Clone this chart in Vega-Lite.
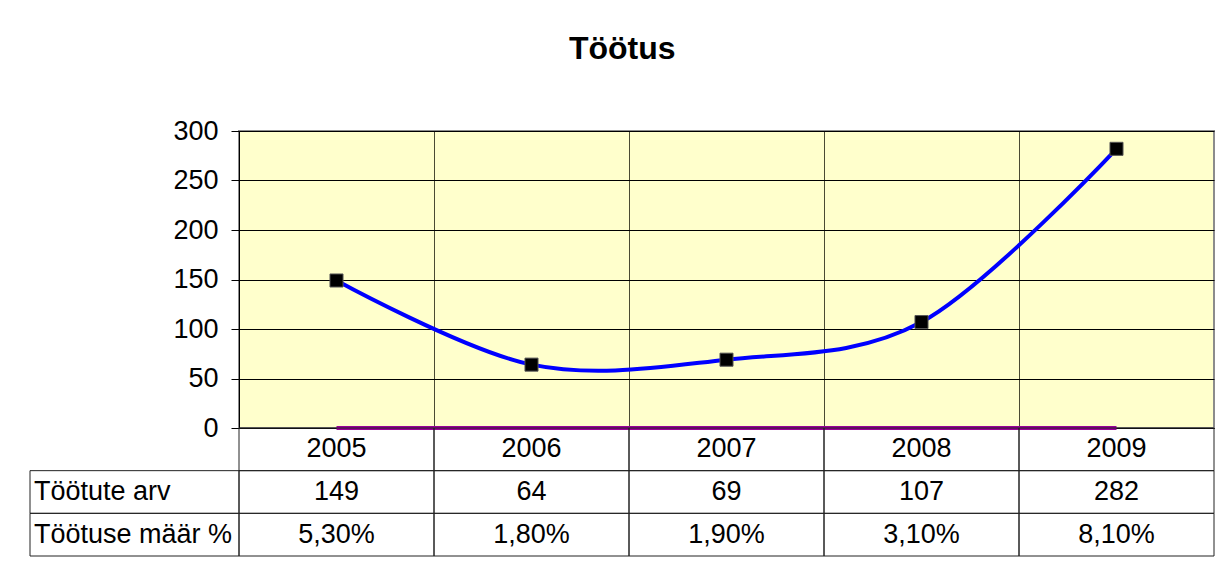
{
  "$schema": "https://vega.github.io/schema/vega-lite/v6.json",
  "padding": {"left": 29, "top": 33, "right": 0, "bottom": 0},
  "background": "white",
  "title": {"text": "Töötus", "fontSize": 32, "fontWeight": "bold", "font": "Liberation Sans", "anchor": "middle", "offset": 50, "color": "black"},
  "datasets": {
    "andmed": [
      {"aasta": "2005", "arv": 149, "maar": 0.053},
      {"aasta": "2006", "arv": 64, "maar": 0.018},
      {"aasta": "2007", "arv": 69, "maar": 0.019},
      {"aasta": "2008", "arv": 107, "maar": 0.031},
      {"aasta": "2009", "arv": 282, "maar": 0.081}
    ],
    "read": [
      {"rida": "arv", "nimi": "Töötute arv"},
      {"rida": "maar", "nimi": "Töötuse määr %"}
    ]
  },
  "columns": 2,
  "spacing": 0,
  "bounds": "flush",
  "concat": [
    {
      "width": 209,
      "height": 297,
      "view": {"stroke": null},
      "data": {"values": []},
      "mark": "point"
    },
    {
      "width": 975,
      "height": 297,
      "view": {"fill": "#FFFFCC", "stroke": "#8c8c8c", "strokeWidth": 2},
      "data": {"name": "andmed"},
      "encoding": {
        "x": {
          "field": "aasta", "type": "ordinal", "bandPosition": 0.5,
          "scale": {"type": "band", "domain": ["2005", "2006", "2007", "2008", "2009"], "paddingInner": 0, "paddingOuter": 0},
          "axis": {"title": null, "labels": false, "ticks": false, "domain": true, "domainColor": "black", "domainWidth": 1, "grid": true, "gridColor": "#4a4a33", "gridWidth": 1, "bandPosition": 0}
        }
      },
      "layer": [
        {
          "mark": {"type": "line", "color": "#990099", "strokeWidth": 4, "clip": false},
          "encoding": {
            "y": {
              "field": "maar", "type": "quantitative",
              "scale": {"domain": [0, 300], "nice": false},
              "axis": {"title": null, "values": [0, 50, 100, 150, 200, 250, 300], "grid": true, "gridColor": "black", "gridWidth": 1, "domainColor": "black", "tickColor": "black", "tickSize": 8, "labelPadding": 13, "labelFontSize": 27, "labelColor": "black", "labelFont": "Liberation Sans"}
            }
          }
        },
        {
          "mark": {"type": "line", "color": "#0000FF", "strokeWidth": 4, "interpolate": "cardinal", "tension": 0},
          "encoding": {"y": {"field": "arv", "type": "quantitative"}}
        },
        {
          "mark": {"type": "point", "shape": "square", "filled": true, "size": 170, "fill": "black", "stroke": "#555555", "strokeWidth": 1, "opacity": 1},
          "encoding": {"y": {"field": "arv", "type": "quantitative"}}
        }
      ]
    },
    {
      "width": 209,
      "height": 128,
      "view": {"stroke": null},
      "data": {"name": "read"},
      "layer": [
        {
          "mark": {"type": "rect", "filled": false, "stroke": "#222222", "strokeWidth": 1},
          "encoding": {
            "x": {"datum": 0, "type": "quantitative", "scale": {"domain": [0, 1], "nice": false}, "axis": null},
            "x2": {"datum": 1},
            "y": {"field": "rida", "type": "nominal", "scale": {"domain": ["aasta", "arv", "maar"], "paddingInner": 0, "paddingOuter": 0}, "axis": null}
          }
        },
        {
          "mark": {"type": "text", "align": "left", "baseline": "middle", "dx": 4, "fontSize": 27, "font": "Liberation Sans", "color": "black"},
          "encoding": {
            "x": {"datum": 0, "type": "quantitative"},
            "y": {"field": "rida", "type": "nominal", "bandPosition": 0.5},
            "text": {"field": "nimi"}
          }
        }
      ]
    },
    {
      "width": 975,
      "height": 128,
      "view": {"stroke": null},
      "data": {"name": "andmed"},
      "layer": [
        {
          "transform": [{"fold": ["aasta", "arv", "maar"], "as": ["rida", "v"]}],
          "mark": {"type": "rect", "filled": false, "stroke": "#222222", "strokeWidth": 1},
          "encoding": {
            "x": {"field": "aasta", "type": "ordinal", "scale": {"type": "band", "domain": ["2005", "2006", "2007", "2008", "2009"], "paddingInner": 0, "paddingOuter": 0}, "axis": null},
            "y": {"field": "rida", "type": "nominal", "scale": {"domain": ["aasta", "arv", "maar"], "paddingInner": 0, "paddingOuter": 0}, "axis": null}
          }
        },
        {
          "mark": {"type": "text", "align": "center", "baseline": "middle", "fontSize": 27, "font": "Liberation Sans", "color": "black"},
          "encoding": {
            "x": {"field": "aasta", "type": "ordinal", "bandPosition": 0.5},
            "y": {"datum": "aasta", "type": "nominal", "bandPosition": 0.5},
            "text": {"field": "aasta"}
          }
        },
        {
          "mark": {"type": "text", "align": "center", "baseline": "middle", "fontSize": 27, "font": "Liberation Sans", "color": "black"},
          "encoding": {
            "x": {"field": "aasta", "type": "ordinal", "bandPosition": 0.5},
            "y": {"datum": "arv", "type": "nominal", "bandPosition": 0.5},
            "text": {"field": "arv"}
          }
        },
        {
          "mark": {"type": "text", "align": "center", "baseline": "middle", "fontSize": 27, "font": "Liberation Sans", "color": "black"},
          "encoding": {
            "x": {"field": "aasta", "type": "ordinal", "bandPosition": 0.5},
            "y": {"datum": "maar", "type": "nominal", "bandPosition": 0.5},
            "text": {"field": "maar", "format": ".2%"}
          }
        }
      ]
    }
  ],
  "config": {
    "font": "Liberation Sans",
    "locale": {"number": {"decimal": ",", "thousands": " ", "grouping": [3], "currency": ["", " €"]}}
  }
}
